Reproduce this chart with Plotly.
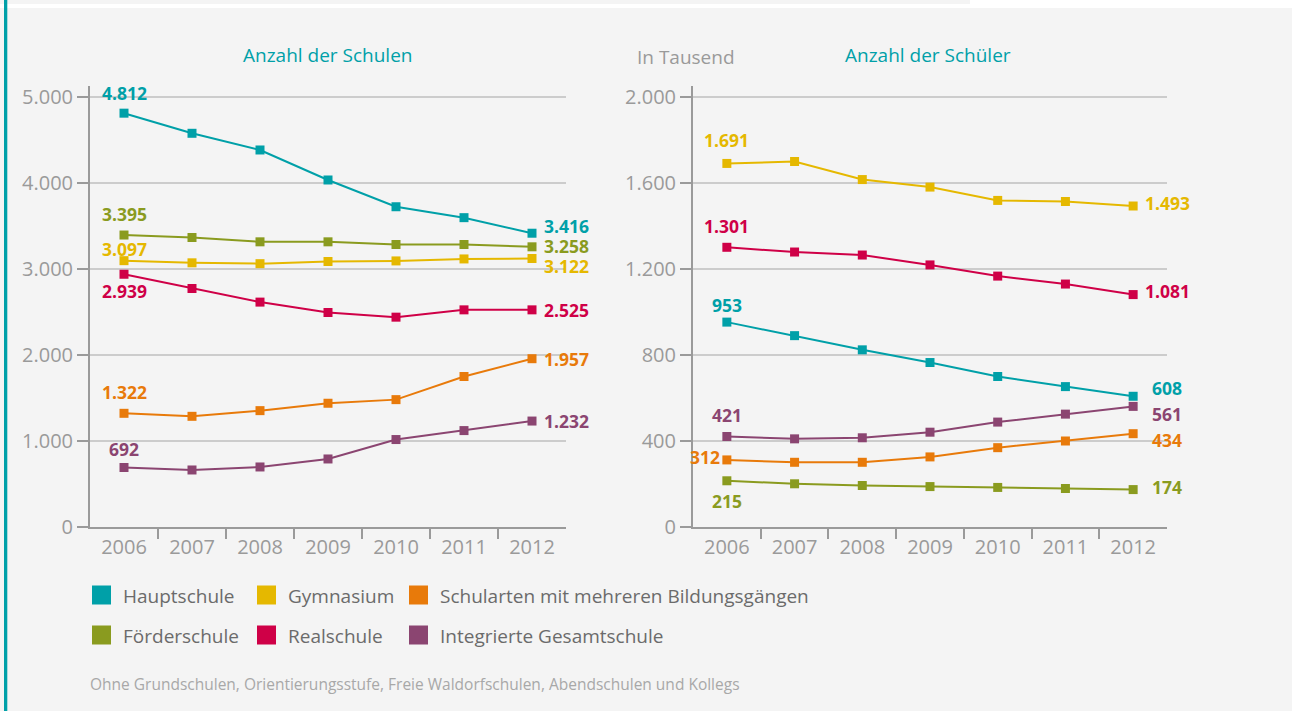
import plotly.graph_objects as go

W, H = 1292, 711

years = ["2006", "2007", "2008", "2009", "2010", "2011", "2012"]

series_names = ["Hauptschule", "Gymnasium", "Schularten mit mehreren Bildungsgängen",
                "Förderschule", "Realschule", "Integrierte Gesamtschule"]
series_colors = ["#00A0A8", "#E5B800", "#E87A0A", "#8A9B1F", "#CF0047", "#8B4571"]

# Anzahl der Schulen
haupt_schulen = [4812, 4578, 4384, 4035, 3724, 3597, 3416]
gym_schulen = [3097, 3072, 3062, 3087, 3094, 3117, 3122]
mehr_schulen = [1322, 1287, 1353, 1439, 1481, 1750, 1957]
foerder_schulen = [3395, 3366, 3316, 3316, 3285, 3285, 3258]
real_schulen = [2939, 2773, 2615, 2494, 2440, 2525, 2525]
igs_schulen = [692, 663, 698, 791, 1017, 1121, 1232]

# Anzahl der Schüler (in Tausend)
haupt_schueler = [953, 890, 824, 765, 700, 653, 608]
gym_schueler = [1691, 1700, 1616, 1581, 1519, 1514, 1493]
mehr_schueler = [312, 301, 301, 326, 369, 400, 434]
foerder_schueler = [215, 201, 193, 188, 184, 179, 174]
real_schueler = [1301, 1279, 1265, 1219, 1167, 1130, 1081]
igs_schueler = [421, 410, 415, 441, 488, 525, 561]

left_ticks = [0, 1000, 2000, 3000, 4000, 5000]
left_ticktext = ["0", "1.000", "2.000", "3.000", "4.000", "5.000"]
right_ticks = [0, 400, 800, 1200, 1600, 2000]
right_ticktext = ["0", "400", "800", "1.200", "1.600", "2.000"]

title_left = "Anzahl der Schulen"
title_right = "Anzahl der Schüler"
unit_right = "In Tausend"
footnote = "Ohne Grundschulen, Orientierungsstufe, Freie Waldorfschulen, Abendschulen und Kollegs"

FONT = "Open Sans"
GRAY = "#9a9a9a"


def X(px):
    return px / W


def Y(py):
    return 1 - py / H


def fmt(v):
    return f"{v:,}".replace(",", ".")


left_data = [haupt_schulen, gym_schulen, mehr_schulen, foerder_schulen, real_schulen, igs_schulen]
right_data = [haupt_schueler, gym_schueler, mehr_schueler, foerder_schueler, real_schueler, igs_schueler]

fig = go.Figure()
xi = list(range(len(years)))
for name, col, vals in zip(series_names, series_colors, left_data):
    fig.add_trace(go.Scatter(x=xi, y=vals, mode="lines+markers", name=name,
                             line=dict(color=col, width=2),
                             marker=dict(symbol="square", size=9, color=col),
                             xaxis="x", yaxis="y", showlegend=False))
for name, col, vals in zip(series_names, series_colors, right_data):
    fig.add_trace(go.Scatter(x=xi, y=vals, mode="lines+markers", name=name,
                             line=dict(color=col, width=2),
                             marker=dict(symbol="square", size=9, color=col),
                             xaxis="x2", yaxis="y2", showlegend=False))

# label placement: (start x, start xanchor, start yshift, end yshift)
left_lab = [(0, "center", 20, 7), (0, "center", 12, -7), (0, "center", 21, 0),
            (0, "center", 21, 1), (0, "center", -17, 0), (0, "center", 18, 0)]
right_lab = [(0, "center", 17, 8), (0, "center", 23, 3), (-0.07, "right", 3, -6),
             (0, "center", -20, 3), (0, "center", 21, 4), (0, "center", 21, -8)]

LAB_SIZE = 17.5
ann = []
for (xr, yr, data, labs) in [("x", "y", left_data, left_lab), ("x2", "y2", right_data, right_lab)]:
    for col, vals, (sx, sa, sys_, eys) in zip(series_colors, data, labs):
        ann.append(dict(x=sx, y=vals[0], xref=xr, yref=yr, text=fmt(vals[0]), showarrow=False,
                        xanchor=sa, yanchor="middle", yshift=sys_,
                        font=dict(family=FONT, size=LAB_SIZE, color=col, weight="bold")))
        ann.append(dict(x=6.5, y=vals[-1], xref=xr, yref=yr, text=fmt(vals[-1]), showarrow=False,
                        xanchor="center", yanchor="middle", yshift=eys,
                        font=dict(family=FONT, size=LAB_SIZE, color=col, weight="bold")))

ann.append(dict(x=X(327), y=Y(55), xref="paper", yref="paper", text=title_left, showarrow=False,
                xanchor="center", yanchor="middle", font=dict(family=FONT, size=19, color="#00A0A8")))
ann.append(dict(x=X(928), y=Y(55), xref="paper", yref="paper", text=title_right, showarrow=False,
                xanchor="center", yanchor="middle", font=dict(family=FONT, size=19, color="#00A0A8")))
ann.append(dict(x=X(686), y=Y(57), xref="paper", yref="paper", text=unit_right, showarrow=False,
                xanchor="center", yanchor="middle", font=dict(family=FONT, size=19, color=GRAY)))
ann.append(dict(x=X(88), y=Y(684), xref="paper", yref="paper", text=footnote, showarrow=False,
                xanchor="left", yanchor="middle", font=dict(family=FONT, size=15.5, color="#a8a8a8")))

shapes = [
    dict(type="rect", xref="paper", yref="paper", x0=0, x1=1, y0=Y(8), y1=Y(4),
         fillcolor="white", line=dict(width=0), layer="below"),
    dict(type="rect", xref="paper", yref="paper", x0=X(970), x1=1, y0=Y(4), y1=1,
         fillcolor="white", line=dict(width=0), layer="below"),
    dict(type="rect", xref="paper", yref="paper", x0=X(4), x1=X(7.3), y0=0, y1=1,
         fillcolor="#00A0A8", line=dict(width=0), layer="above"),
]

# legend as shapes + text in a 3x2 grid
leg_cols = [92, 257, 409]
leg_rows = [595, 635]
for i, (name, col) in enumerate(zip(series_names, series_colors)):
    cx = leg_cols[i % 3]
    cy = leg_rows[i // 3]
    shapes.append(dict(type="rect", xref="paper", yref="paper", x0=X(cx), x1=X(cx + 19),
                       y0=Y(cy + 9.5), y1=Y(cy - 9.5), fillcolor=col, line=dict(width=0)))
    ann.append(dict(x=X(cx + 29), y=Y(cy + 1), xref="paper", yref="paper", text=name, showarrow=False,
                    xanchor="left", yanchor="middle", font=dict(family=FONT, size=19, color="#6b6b6b")))

ytop_px, ybot_px, y5_px = 86, 527, 97
ext = (ybot_px - ytop_px) / (ybot_px - y5_px)

common_x = dict(range=[-0.5, 6.5], tickvals=xi, ticktext=years, showgrid=False, zeroline=False,
                showline=True, linecolor=GRAY, linewidth=2, automargin=False,
                ticks="outside", ticklen=1, tickcolor="rgba(0,0,0,0)",
                tickfont=dict(family=FONT, size=20, color=GRAY),
                minor=dict(tickmode="array", tickvals=[0.5, 1.5, 2.5, 3.5, 4.5, 5.5],
                           ticks="outside", ticklen=10, tickwidth=2, tickcolor=GRAY, showgrid=False),
                fixedrange=True)
common_y = dict(showgrid=True, gridcolor="#cccccc", gridwidth=2, zeroline=False,
                showline=True, linecolor=GRAY, linewidth=2, automargin=False,
                ticks="outside", ticklen=11, tickwidth=2, tickcolor=GRAY,
                tickfont=dict(family=FONT, size=20, color=GRAY), fixedrange=True)

fig.update_layout(
    width=W, height=H, autosize=False,
    margin=dict(l=0, r=0, t=0, b=0, pad=0, autoexpand=False),
    paper_bgcolor="#f4f4f4", plot_bgcolor="rgba(0,0,0,0)",
    showlegend=False,
    xaxis=dict(domain=[X(90), X(566)], anchor="y", **common_x),
    yaxis=dict(domain=[Y(ybot_px), Y(ytop_px)], anchor="x", range=[0, 5000 * ext],
               tickvals=left_ticks, ticktext=left_ticktext, **common_y),
    xaxis2=dict(domain=[X(693), X(1167)], anchor="y2", **common_x),
    yaxis2=dict(domain=[Y(ybot_px), Y(ytop_px)], anchor="x2", range=[0, 2000 * ext],
                tickvals=right_ticks, ticktext=right_ticktext, **common_y),
    annotations=ann,
    shapes=shapes,
)

fig.write_html("out.html", config={"displayModeBar": False, "responsive": False},
               post_script="document.body.style.margin='0';document.body.style.padding='0';")
